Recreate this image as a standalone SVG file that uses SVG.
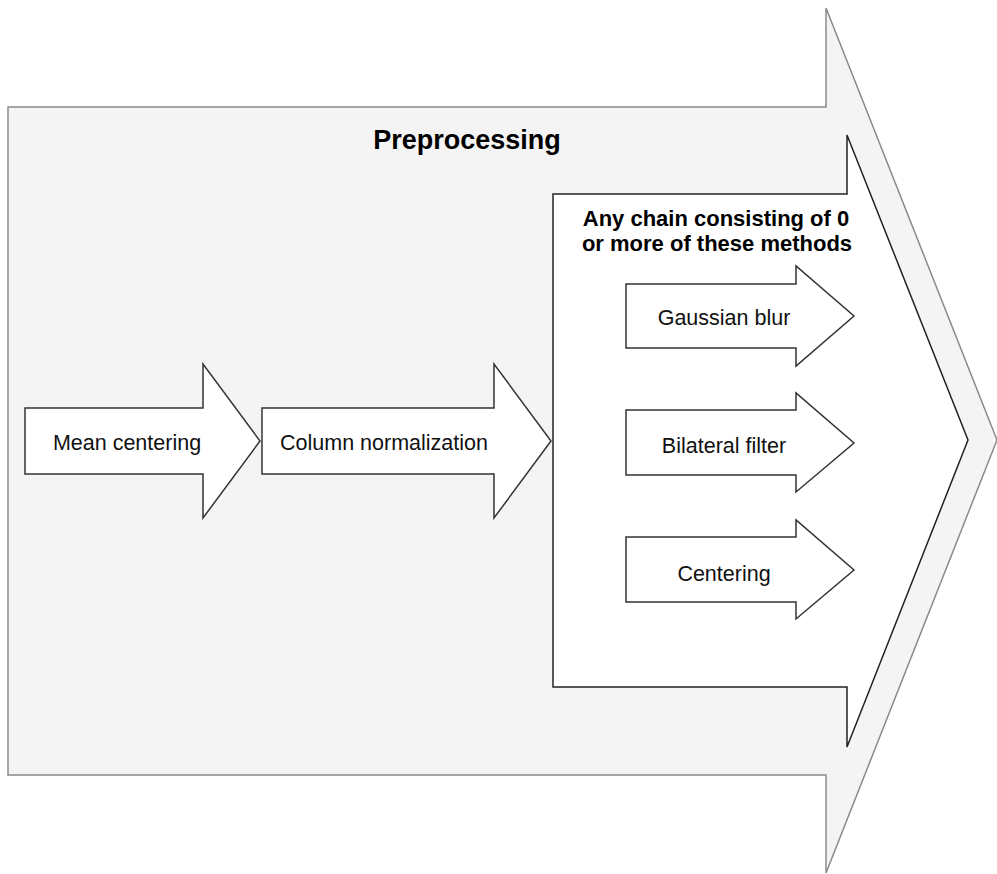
<svg xmlns="http://www.w3.org/2000/svg" width="997" height="874" viewBox="0 0 997 874">
<style>
.outer{fill:#f4f4f4;stroke:#8a8a8a;stroke-width:1.5}
.inner{fill:#fff;stroke:#222;stroke-width:1.5}
.step{fill:#fff;stroke:#333;stroke-width:1.5}
.lbl{font-family:"Liberation Sans",Arial,sans-serif;font-size:21.5px;fill:#111;text-anchor:middle}
.ttl{font-family:"Liberation Sans",Arial,sans-serif;font-weight:bold;fill:#000;text-anchor:middle}
</style>
<rect width="997" height="874" fill="#fff"/>
<g id="preprocessing">
<path class="outer" d="M8,107 H826 V8 L997,440 L826,873 V775 H8 Z"/>
<text class="ttl" x="467" y="149" style="font-size:27px">Preprocessing</text>
</g>
<g id="chain">
<path class="inner" d="M553,194 H847 V135 L968,440 L847,747 V687 H553 Z"/>
<text class="ttl" x="716" y="226" style="font-size:22px">Any chain consisting of 0</text>
<text class="ttl" x="717" y="251" style="font-size:22px">or more of these methods</text>
</g>
<g id="mean-centering">
<path class="step" d="M25,408 H203 V364 L260,441 L203,518 V474 H25 Z"/>
<text class="lbl" x="127" y="450">Mean centering</text>
</g>
<g id="column-normalization">
<path class="step" d="M262,408 H494 V364 L551,441 L494,518 V474 H262 Z"/>
<text class="lbl" x="384" y="450">Column normalization</text>
</g>
<g id="gaussian-blur">
<path class="step" d="M626,284 H796 V266 L854,316 L796,366 V348 H626 Z"/>
<text class="lbl" x="724" y="325">Gaussian blur</text>
</g>
<g id="bilateral-filter">
<path class="step" d="M626,410 H796 V393 L854,443 L796,492 V475 H626 Z"/>
<text class="lbl" x="724" y="453">Bilateral filter</text>
</g>
<g id="centering">
<path class="step" d="M626,537 H796 V520 L854,570 L796,619 V602 H626 Z"/>
<text class="lbl" x="724" y="581">Centering</text>
</g>
<g id="connectors"></g>
</svg>
